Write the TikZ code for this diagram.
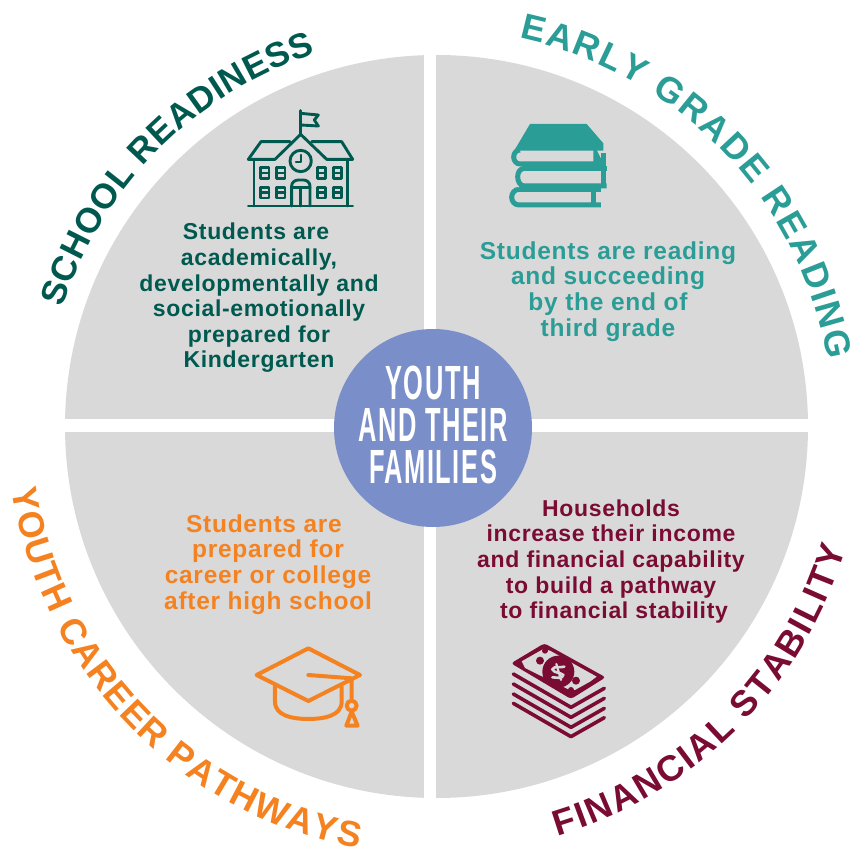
\documentclass[tikz,border=0pt]{standalone}
\usepackage{fontspec}
\setmainfont{Liberation Sans}
\newfontfamily\bodyfont[LetterSpace=3]{Liberation Sans}
\newfontfamily\hubfont[LetterSpace=6]{Liberation Sans}
\usetikzlibrary{decorations.text}
\definecolor{schoolc}{HTML}{00594F}
\definecolor{readc}{HTML}{2A9D96}
\definecolor{careerc}{HTML}{F58220}
\definecolor{moneyc}{HTML}{7A0C33}
\definecolor{greyc}{HTML}{D9D9D9}
\definecolor{hubc}{HTML}{7A8FC9}
\tikzset{
  x=1pt,y=1pt,
  body/.style={align=center,inner sep=0pt,font=\bodyfont\bfseries\fontsize{23}{25.6}\selectfont},
  bodywide/.style={align=center,inner sep=0pt,font=\bodyfont\bfseries\fontsize{24.5}{25.6}\selectfont},
  iconzoom/.style={x=0.3333pt,y=-0.3333pt,line cap=round,line join=round},
}
\newcommand{\arctext}[6]{% colour, radius, start, end, text, size
  \path[decoration={text along path,text align={fit to path},text color=#1,
     text={|\bfseries\fontsize{#6}{#6}\selectfont|#5}},decorate]
     (436.5,-426.5) ++(#3:#2) arc[start angle=#3,end angle=#4,radius=#2];}
\begin{document}
\begin{tikzpicture}
\useasboundingbox (0,0) rectangle (854,-850);
\fill[white] (0,0) rectangle (854,-850);
% disc and gaps
\fill[greyc] (436.5,-426.5) circle[radius=371.5];
\fill[white] (424,-40) rectangle (436,-810);
\fill[white] (50,-419) rectangle (820,-432);
% hub
\node[circle,fill=hubc,minimum size=198pt,inner sep=0pt] (hub) at (433,-428) {};
\node[xscale=.53,transform shape,align=center,text=white,inner sep=0pt,
  font=\hubfont\bfseries\fontsize{48}{42}\selectfont] (hubtext) at (433,-425) {YOUTH\\AND THEIR\\FAMILIES};
% arc titles
\arctext{schoolc}{392}{162.4}{108}{SCHOOL READINESS}{35}
\arctext{readc}{397}{78}{9.7}{EARLY GRADE READING}{36}
\arctext{careerc}{429}{188.4}{259.5}{YOUTH CAREER PATHWAYS}{36}
\arctext{moneyc}{427}{286.5}{343.4}{FINANCIAL STABILITY}{36}
% body text
\node[body,text=schoolc] (schooltext) at (259,-298) {Students are\hspace*{6pt}\\academically,\\developmentally and\\social-emotionally\hspace*{6pt}\\prepared for\hspace*{8pt}\\Kindergarten};
\node[bodywide,text=readc] (readtext) at (608,-291.5) {Students are reading\\and succeeding\hspace*{8pt}\\by the end of\\third grade};
\node[bodywide,text=careerc] (careertext) at (268,-564.5) {Students are\hspace*{8pt}\\prepared for\hspace*{6pt}\\career or college\\after high school};
\node[body,text=moneyc] (moneytext) at (611,-561.5) {Households\\increase their income\\and financial capability\\to build a pathway\\\hspace*{6pt}to financial stability};
% school icon
\begin{scope}[shift={(230,-100)},iconzoom,draw=schoolc,line width=2.9pt]
\draw (212,100)--(212,32);
\draw (212,40)--(265,45)--(253,60)--(265,78)--(212,75);
\draw (55,178)--(93,125)--(180,125);
\draw (368,178)--(335,125)--(245,125);
\draw (55,178)--(135,178)--(212,103)--(290,178)--(368,178);
\draw (72,180)--(72,318) (352,180)--(352,318) (55,318)--(368,318);
\draw (212,183) circle[radius=32];
\draw[line width=2.2pt] (212,165)--(212,187)--(198,187);
\foreach \xx in {92,140,262,310}\foreach \yy in {203,262}{
  \draw[line width=2.5pt] (\xx,\yy) rectangle ++(25,32);
  \draw[line width=2.5pt] (\xx,\yy+16)--++(25,0);
}
\draw (185,318)--(185,258) to[out=90,in=180] (205,240)--(220,240) to[out=0,in=90] (240,258)--(240,318);
\draw (185,262)--(240,262) (212,262)--(212,318);
\end{scope}
% books icon
\begin{scope}[shift={(495,-110)},iconzoom,line width=5pt,draw=readc,line cap=butt,line join=miter]
\fill[readc] (105,42)--(275,42)--(325,100)--(325,122)--(75,122)--(60,118)--cycle;
\draw (75,120) to[out=180,in=90] (56,141) to[out=-90,in=180] (75,162)--(325,162);
\fill[readc] (295,120)--(305,120)--(325,160)--(325,168)--(295,168)--cycle;
\draw (325,130)--(325,235);
\draw (88,175)--(335,175);
\draw (88,175) to[out=180,in=90] (68,200) to[out=-90,in=180] (88,228)--(335,228);
\draw (72,238)--(318,238);
\draw (72,238) to[out=180,in=90] (50,262) to[out=-90,in=180] (72,285)--(318,285);
\draw (295,238)--(295,285);
\end{scope}
% cap icon
\begin{scope}[shift={(240,-635)},iconzoom,line width=4pt,draw=careerc]
\draw (205,40)--(360,120)--(205,198)--(50,120)--cycle;
\draw (205,120)--(335,130)--(335,197);
\draw (335,212) circle[radius=15];
\draw (335,230)--(319,272)--(353,272)--cycle;
\draw (105,155)--(105,200) to[out=-90,in=180] (205,252) to[out=0,in=-90] (305,200)--(305,155);
\end{scope}
% money icon
\begin{scope}[shift={(495,-630)},iconzoom,line width=3.6pt,draw=moneyc]
\fill[moneyc,rounded corners=3pt] (148,40)--(332,142)--(228,207)--(48,100)--cycle;
\fill[greyc] (80,94)--(145,57)--(165,62)--(305,140)--(285,155)--(240,180)--(220,178)--(90,114)--cycle;
\fill[moneyc] (190,125) circle[radius=48];
\fill[moneyc] (135,92) circle[radius=12];
\fill[moneyc] (243,152) circle[radius=12];
\fill[moneyc] (150,62) circle[radius=9];
\fill[moneyc] (228,180) circle[radius=9];
\draw[greyc,line width=2.6pt] (208,110) to[out=200,in=60] (172,118) to[out=-60,in=140] (205,135) to[out=-100,in=0] (172,142);
\draw[greyc,line width=2.2pt] (184,102)--(198,150);
\foreach \dy in {0,30,60,88}{
  \draw (55,\dy+132)--(228,\dy+232)--(328,\dy+175);
}
\end{scope}
\end{tikzpicture}
\end{document}
